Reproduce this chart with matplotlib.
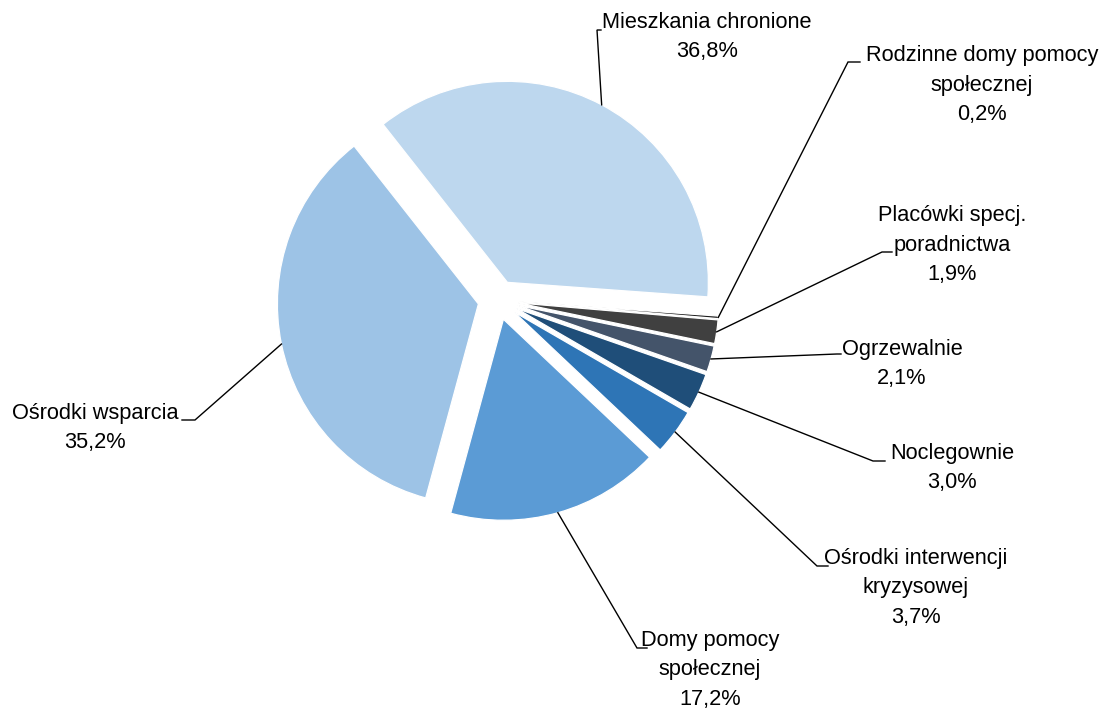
import matplotlib
matplotlib.use("Agg")
import matplotlib.pyplot as plt
import numpy as np

# ---- data ----
categories = [
    "Mieszkania chronione",
    "Rodzinne domy pomocy\nspołecznej",
    "Placówki specj.\nporadnictwa",
    "Ogrzewalnie",
    "Noclegownie",
    "Ośrodki interwencji\nkryzysowej",
    "Domy pomocy\nspołecznej",
    "Ośrodki wsparcia",
]
values = [36.8, 0.2, 1.9, 2.1, 3.0, 3.7, 17.2, 35.2]
value_labels = ["36,8%", "0,2%", "1,9%", "2,1%", "3,0%", "3,7%", "17,2%", "35,2%"]
colors = ["#BDD7EE", "#1E1E1E", "#404040", "#44546A", "#1F4E79",
          "#2E75B6", "#5B9BD5", "#9DC3E6"]

# ---- layout (image pixel coordinates, y downward) ----
W, H = 1107, 713
center_px = (498, 300)
radius_px = 201
explode_px = 20
start_angle = 128.2

label_pos = [(707, 37), (982, 85), (952, 245), (902, 364),
             (952, 468), (916, 588), (710, 670), (95, 428)]
elbow_pos = [(597, 30), (848, 62), (882, 252), (837, 354),
             (873, 461), (817, 566), (637, 648), (195, 420)]
end_pos = [(601, 30), (860, 62), (892, 252), (841, 354),
           (885, 461), (828, 566), (647, 648), (182, 420)]

plt.rcParams['font.family'] = ['Liberation Sans', 'DejaVu Sans']

fig = plt.figure(figsize=(W / 100, H / 100), dpi=100)
ax = fig.add_axes([0, 0, 1, 1])

def fy(y):
    return H - y

wedges, _ = ax.pie(
    values, colors=colors, startangle=start_angle, counterclock=False,
    radius=radius_px, center=(center_px[0], fy(center_px[1])),
    explode=[explode_px] * len(values),
    wedgeprops=dict(edgecolor="white", linewidth=0.9),
)

ax.set_xlim(0, W)
ax.set_ylim(0, H)
ax.set_aspect("equal")
ax.axis("off")

for i, w in enumerate(wedges):
    tm = np.deg2rad((w.theta1 + w.theta2) / 2)
    cx, cy = w.center
    px = cx + w.r * np.cos(tm)
    py = cy + w.r * np.sin(tm)
    ex, ey = elbow_pos[i]
    tx, ty = end_pos[i]
    ax.plot([px, ex, tx], [py, fy(ey), fy(ty)], color="black", lw=1.0,
            solid_joinstyle="miter", zorder=3)
    lx, ly = label_pos[i]
    ax.text(lx, fy(ly), categories[i] + "\n" + value_labels[i],
            ha="center", va="center", fontsize=15.7, linespacing=1.53,
            color="black")

fig.savefig("out.png", dpi=100, facecolor="white")
